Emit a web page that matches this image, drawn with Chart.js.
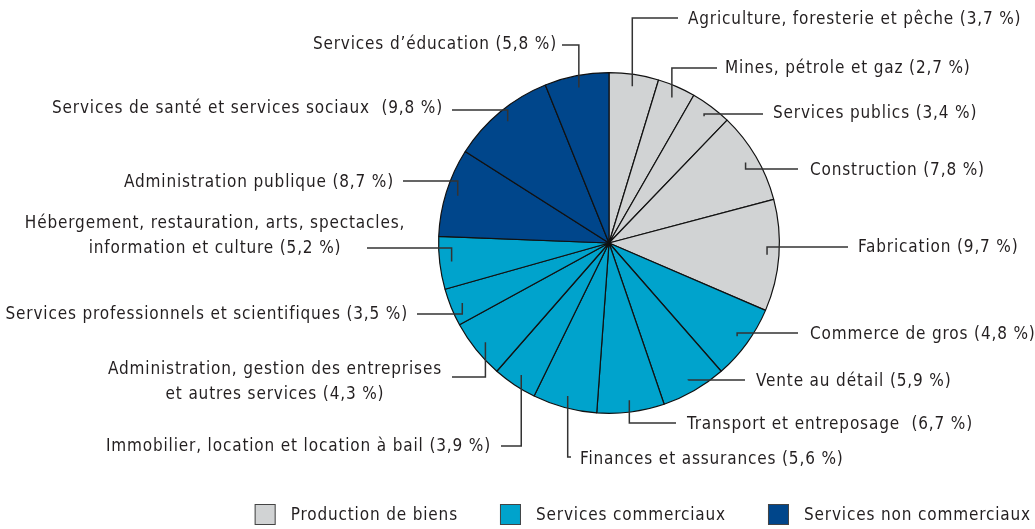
<!DOCTYPE html>
<html>
<head>
<meta charset="utf-8">
<script src="https://cdn.jsdelivr.net/npm/chart.js@4.4.0/dist/chart.umd.min.js"></script>
<style>
  html, body { margin: 0; padding: 0; background: #fff; }
</style>
</head>
<body>
<canvas id="pie" width="1035" height="529"></canvas>
<script>
// industries, clockwise from 12 o'clock
var industries = [
  'Agriculture, foresterie et pêche',
  'Mines, pétrole et gaz',
  'Services publics',
  'Construction',
  'Fabrication',
  'Commerce de gros',
  'Vente au détail',
  'Transport et entreposage ',
  'Finances et assurances',
  'Immobilier, location et location à bail',
  'Administration, gestion des entreprises\net autres services',
  'Services professionnels et scientifiques',
  'Hébergement, restauration, arts, spectacles,\ninformation et culture',
  'Administration publique',
  'Services de santé et services sociaux ',
  'Services d’éducation'
]
// percentages as printed in the labels
var printedPct = ['3,7','2,7','3,4','7,8','9,7','4,8','5,9','6,7','5,6','3,9','4,3','3,5','5,2','8,7','9,8','5,8']
// share of the circle each slice actually takes in the picture
var sliceShares = [4.7, 3.6, 3.9, 8.7, 10.6, 7.1, 6.2, 6.4, 6.1, 4.2, 5.6, 3.6, 5.0, 8.4, 9.9, 6.1]
var groupOf = [0,0,0,0,0, 1,1,1,1,1,1,1,1, 2,2,2]
var groupNames = ['Production de biens', 'Services commerciaux', 'Services non commerciaux']
var groupColors = ['#d1d3d4', '#00a3cc', '#00468b']

var FONT = '17px "DejaVu Sans Condensed", "Liberation Sans Narrow", sans-serif'
var INK = '#231f20'

// where each leader line ends: [lineEndX, lineY, textX, textY, align]
var labelSpots = [
  [678, 18, 688, 20, 'left'],
  [717, 68, 725, 69, 'left'],
  [763, 114, 773, 114, 'left'],
  [798, 169, 810, 171, 'left'],
  [848, 247, 858, 248, 'left'],
  [798, 333, 810, 335, 'left'],
  [745, 380, 756, 382, 'left'],
  [676, 423, 687, 425, 'left'],
  [571, 457, 580, 460, 'left'],
  [501, 446, 491, 447, 'right'],
  [452, 377, 275, 370, 'center'],
  [417, 314, 408, 315, 'right'],
  [367, 248, 215, 224, 'center'],
  [403, 181, 394, 183, 'right'],
  [452, 110, 443, 109, 'right'],
  [562, 45, 557, 45, 'right']
]

var leaderLabels = {
  id: 'leaderLabels',
  afterDraw: function(chart) {
    var ctx = chart.ctx
    var arcs = chart.getDatasetMeta(0).data
    ctx.save()
    ctx.strokeStyle = '#333'
    ctx.lineWidth = 1.5
    ctx.fillStyle = INK
    ctx.font = FONT
    ctx.letterSpacing = '0.85px'
    ctx.textBaseline = 'middle'
    arcs.forEach(function(arc, i) {
      var p = arc.getProps(['x', 'y', 'startAngle', 'endAngle', 'outerRadius'], true)
      var mid = (p.startAngle + p.endAngle) / 2
      var ax = p.x + Math.cos(mid) * p.outerRadius * 0.93
      var ay = p.y + Math.sin(mid) * p.outerRadius * 0.93
      var s = labelSpots[i]
      ctx.beginPath()
      ctx.moveTo(ax, ay)
      ctx.lineTo(ax, s[1])
      ctx.lineTo(s[0], s[1])
      ctx.stroke()
      var lines = (industries[i] + ' (' + printedPct[i] + ' %)').split('\n')
      ctx.textAlign = s[4]
      lines.forEach(function(t, k) {
        ctx.fillText(t, s[2], s[3] + k * 25)
      })
    })

    // legend, right aligned at the bottom
    var box = 21, gapText = 15, gapItem = 42
    var widths = groupNames.map(function(n) { return ctx.measureText(n).width })
    var total = 0
    widths.forEach(function(w, i) { total += box + gapText + w + (i < widths.length - 1 ? gapItem : 0) })
    var x = 1031 - total
    var y = 504
    ctx.textAlign = 'left'
    groupNames.forEach(function(n, i) {
      ctx.fillStyle = groupColors[i]
      ctx.fillRect(x, y, box, box)
      ctx.strokeStyle = '#444'
      ctx.lineWidth = 1
      ctx.strokeRect(x + 0.5, y + 0.5, box - 1, box - 1)
      ctx.fillStyle = INK
      ctx.fillText(n, x + box + gapText, y + box / 2 + 1)
      x += box + gapText + widths[i] + gapItem
    })
    ctx.restore()
  }
}

new Chart(document.getElementById('pie'), {
  type: 'pie',
  data: {
    labels: industries,
    datasets: [{
      data: sliceShares,
      backgroundColor: groupOf.map(function(g) { return groupColors[g] }),
      borderColor: '#111',
      borderWidth: 1.2
    }]
  },
  options: {
    responsive: false,
    animation: false,
    layout: { padding: { left: 438, right: 255, top: 72, bottom: 115 } },
    plugins: {
      legend: { display: false },
      tooltip: { enabled: false }
    }
  },
  plugins: [leaderLabels]
})
</script>
</body>
</html>
